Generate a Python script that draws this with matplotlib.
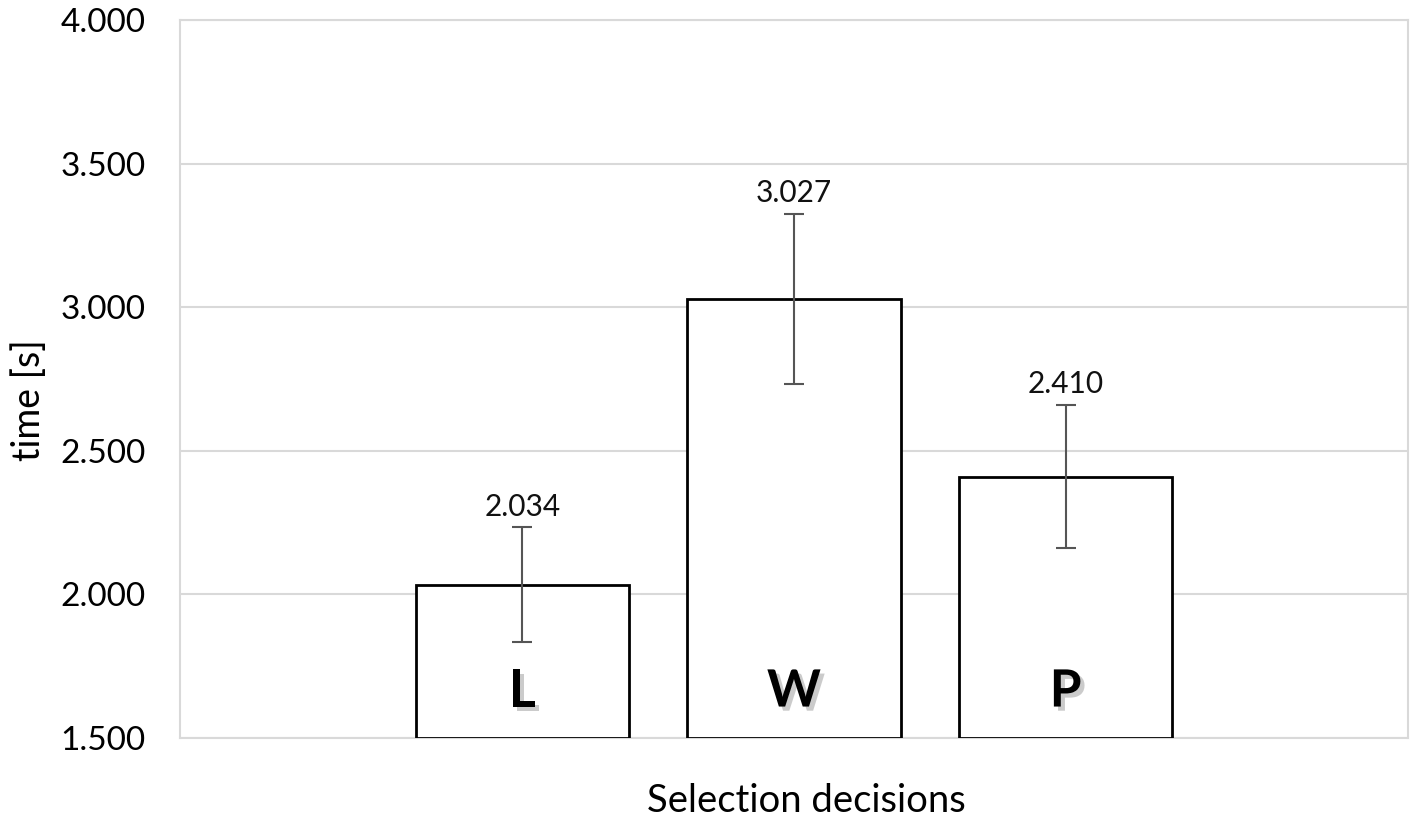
import matplotlib.pyplot as plt
import matplotlib.patheffects as pe
from matplotlib.ticker import FuncFormatter

plt.rcParams['font.family'] = ['Lato', 'DejaVu Sans']

categories = ['L', 'W', 'P']
means = [2.034, 3.027, 2.410]
errors = [0.199, 0.296, 0.248]
yticks = [1.5, 2.0, 2.5, 3.0, 3.5, 4.0]

fig = plt.figure(figsize=(14.19, 8.19), dpi=100)
ax = fig.add_axes([0.1268, 0.0989, 0.8654, 0.8767])

x = list(range(len(categories)))
bars = ax.bar(x, [m - 1.5 for m in means], bottom=1.5, width=0.785,
              color='white', edgecolor='black', linewidth=2, zorder=3)
ax.errorbar(x, means, yerr=errors, fmt='none', ecolor='#555555',
            elinewidth=1.5, capsize=7, capthick=1.5, zorder=4)

for xi, m, e in zip(x, means, errors):
    ax.annotate(f'{m:.3f}', (xi, m + e), xytext=(0, 5), textcoords='offset points',
                ha='center', va='bottom', fontsize=21.5, color='#111111')

for xi, c in zip(x, categories):
    ax.text(xi, 1.66, c, ha='center', va='center', fontsize=37, fontweight='bold',
            color='black', zorder=5,
            path_effects=[pe.SimplePatchShadow(offset=(3, -3), shadow_rgbFace='#999999', alpha=0.5),
                          pe.Normal()])

ax.set_xlim(-1.26, 3.26)
ax.set_ylim(1.5, 4.0)
ax.set_yticks(yticks)
ax.yaxis.set_major_formatter(FuncFormatter(lambda v, p: f'{v:.3f}'))
ax.set_xticks([])
ax.tick_params(axis='y', length=0, pad=25, labelsize=24)
ax.grid(axis='y', color='#d9d9d9', linewidth=1.5, zorder=0)
for s in ax.spines.values():
    s.set_color('#d9d9d9')
    s.set_linewidth(1.5)

ax.set_ylabel('time [s]', fontsize=27, labelpad=14)
ax.yaxis.set_label_coords(-0.108, 0.47)
ax.set_xlabel('Selection decisions', fontsize=27.5)
ax.xaxis.set_label_coords(0.51, -0.062)
ax.xaxis.label.set_va('top')

fig.savefig('out.png', dpi=100)
